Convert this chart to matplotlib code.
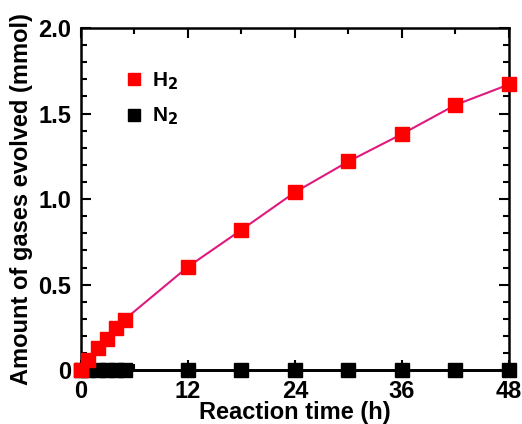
import matplotlib
matplotlib.use("Agg")
import matplotlib.pyplot as plt
from matplotlib.ticker import MultipleLocator

# reaction time (h) and gas evolved (mmol)
time_h2 = [0, 0.8, 1.9, 2.9, 3.9, 4.9, 12, 18, 24, 30, 36, 42, 48]
h2 = [0.0, 0.058, 0.128, 0.185, 0.244, 0.296, 0.604, 0.82, 1.04, 1.22, 1.38, 1.55, 1.67]
time_n2 = [0, 0.8, 1.9, 2.9, 3.9, 4.9, 12, 18, 24, 30, 36, 42, 48]
n2 = [0, 0, 0, 0, 0, 0, 0, 0, 0, 0, 0, 0, 0]

plt.rcParams['font.family'] = ['Liberation Sans', 'DejaVu Sans']
plt.rcParams['font.weight'] = 'bold'

fig = plt.figure(figsize=(5.22, 4.24), dpi=100)
ax = fig.add_axes([0.155, 0.127, 0.82, 0.807])

ax.plot(time_n2, n2, color='black', linewidth=2, marker='s', markersize=9.5,
        markerfacecolor='black', markeredgecolor='black', label='N$_2$', clip_on=False, zorder=3)
ax.plot(time_h2, h2, color='#e0197f', linewidth=1.5, marker='s', markersize=9.5,
        markerfacecolor='#ff0000', markeredgecolor='#ff0000', label='H$_2$', clip_on=False, zorder=4)

ax.set_xlim(0, 48)
ax.set_ylim(0, 2.0)
ax.xaxis.set_major_locator(MultipleLocator(12))
ax.xaxis.set_minor_locator(MultipleLocator(6))
ax.yaxis.set_major_locator(MultipleLocator(0.5))
ax.yaxis.set_minor_locator(MultipleLocator(0.1))
ax.set_yticks([0, 0.5, 1.0, 1.5, 2.0])
ax.set_yticklabels(['0', '0.5', '1.0', '1.5', '2.0'])

ax.tick_params(which='both', direction='in', top=True, right=True, width=1.5,
               labelsize=17, pad=7)
ax.tick_params(which='major', length=7)
ax.tick_params(which='minor', length=4)
for s in ax.spines.values():
    s.set_linewidth(1.8)

ax.set_xlabel('Reaction time (h)', fontsize=17, fontweight='bold', labelpad=-1)
ax.set_ylabel('Amount of gases evolved (mmol)', fontsize=17, fontweight='bold', labelpad=4)

# legend with red first
handles, labels = ax.get_legend_handles_labels()
leg_lines = []
for h in handles[::-1]:
    lh, = ax.plot([], [], linestyle='none', marker='s', markersize=9,
                  color=h.get_markerfacecolor())
    leg_lines.append(lh)
ax.legend(leg_lines, labels[::-1], loc='upper left', bbox_to_anchor=(0.06, 0.93),
          frameon=False, fontsize=15, handlelength=0.8, handletextpad=0.5,
          labelspacing=0.65)

fig.savefig('out.png', dpi=100)
